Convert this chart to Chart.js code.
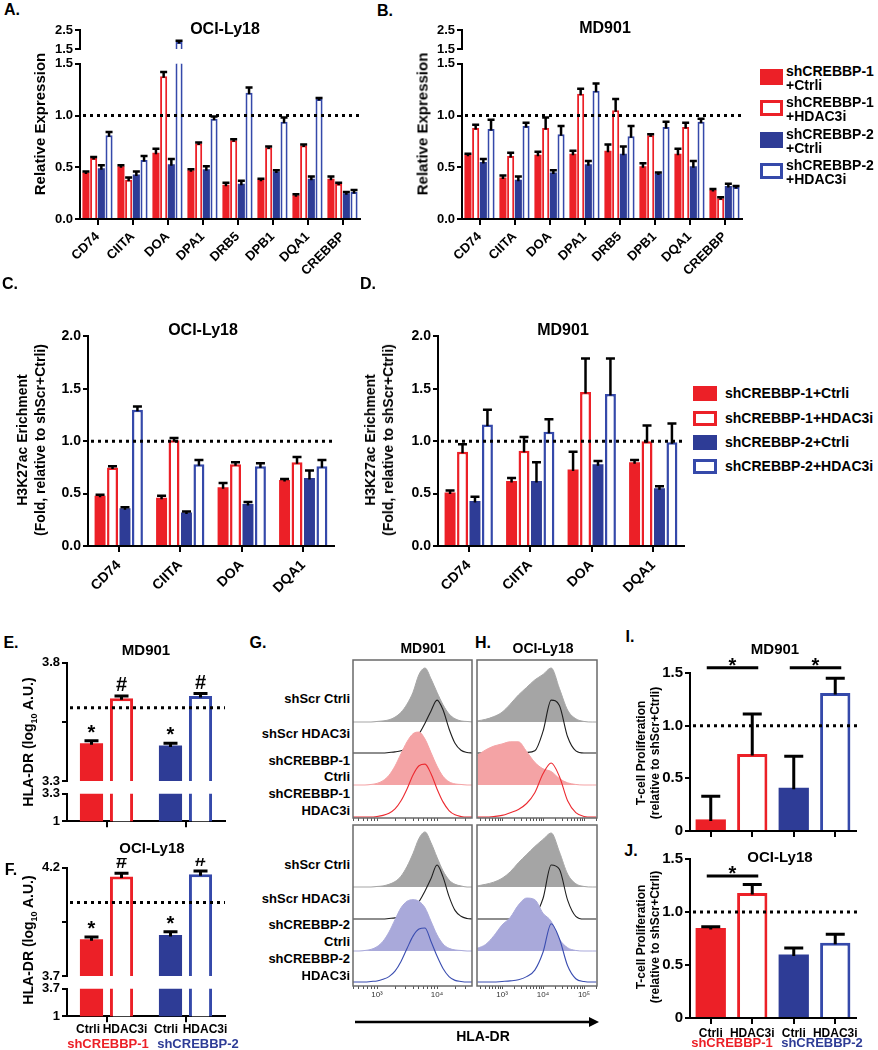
<!DOCTYPE html>
<html>
<head>
<meta charset="utf-8">
<script src="https://cdn.jsdelivr.net/npm/chart.js@4"></script>
<style>
  body { margin: 0; background: #fff; }
  #fig { position: relative; width: 878px; height: 1050px; overflow: hidden;
         font-family: 'Liberation Sans', Arial, Helvetica, sans-serif; font-weight: bold; color: #000; }
  #fig canvas { position: absolute; }
  .t { position: absolute; white-space: nowrap; line-height: 1; }
  .sq { position: absolute; box-sizing: border-box; }
</style>
</head>
<body>
<div id="fig"></div>
<script>
/* ============================
   DATA
   ============================ */
const genes = ["CD74", "CIITA", "DOA", "DPA1", "DRB5", "DPB1", "DQA1", "CREBBP"];
const chipGenes = ["CD74", "CIITA", "DOA", "DQA1"];
const groups = ["shCREBBP-1+Ctrli", "shCREBBP-1+HDAC3i", "shCREBBP-2+Ctrli", "shCREBBP-2+HDAC3i"];
const shGroups = ["shCREBBP-1", "shCREBBP-2"];
const treatments = ["Ctrli", "HDAC3i", "Ctrli", "HDAC3i"];

// A. OCI-Ly18 relative expression
const aSh1Ctrl = [0.45, 0.51, 0.64, 0.47, 0.33, 0.38, 0.23, 0.39];
const aSh1Hdac = [0.59, 0.38, 1.38, 0.73, 0.76, 0.69, 0.71, 0.34];
const aSh2Ctrl = [0.49, 0.43, 0.53, 0.48, 0.34, 0.46, 0.39, 0.25];
const aSh2Hdac = [0.81, 0.57, 1.87, 0.97, 1.22, 0.94, 1.16, 0.26];
const aErrSh1Ctrl = [0.01, 0.01, 0.04, 0.01, 0.02, 0.01, 0.01, 0.02];
const aErrSh1Hdac = [0.01, 0.02, 0.04, 0.01, 0.01, 0.01, 0.01, 0.01];
const aErrSh2Ctrl = [0.03, 0.03, 0.05, 0.03, 0.03, 0.01, 0.02, 0.01];
const aErrSh2Hdac = [0.03, 0.04, 0.06, 0.02, 0.05, 0.04, 0.01, 0.02];

// B. MD901 relative expression
const bSh1Ctrl = [0.62, 0.40, 0.62, 0.63, 0.66, 0.51, 0.63, 0.28];
const bSh1Hdac = [0.88, 0.61, 0.88, 1.21, 1.05, 0.81, 0.89, 0.20];
const bSh2Ctrl = [0.55, 0.38, 0.45, 0.53, 0.63, 0.44, 0.51, 0.32];
const bSh2Hdac = [0.87, 0.90, 0.82, 1.24, 0.80, 0.89, 0.94, 0.31];
const bErrSh1Ctrl = [0.01, 0.02, 0.03, 0.03, 0.06, 0.03, 0.05, 0.01];
const bErrSh1Hdac = [0.03, 0.03, 0.10, 0.05, 0.11, 0.01, 0.04, 0.01];
const bErrSh2Ctrl = [0.03, 0.03, 0.02, 0.03, 0.07, 0.01, 0.05, 0.02];
const bErrSh2Hdac = [0.09, 0.03, 0.08, 0.07, 0.10, 0.05, 0.03, 0.01];

// C. OCI-Ly18 H3K27ac enrichment
const cSh1Ctrl = [0.48, 0.46, 0.56, 0.63];
const cSh1Hdac = [0.75, 1.01, 0.78, 0.80];
const cSh2Ctrl = [0.36, 0.32, 0.40, 0.65];
const cSh2Hdac = [1.30, 0.78, 0.76, 0.76];
const cErrSh1Ctrl = [0.01, 0.02, 0.04, 0.01];
const cErrSh1Hdac = [0.01, 0.02, 0.02, 0.05];
const cErrSh2Ctrl = [0.01, 0.01, 0.02, 0.07];
const cErrSh2Hdac = [0.03, 0.04, 0.03, 0.06];

// D. MD901 H3K27ac enrichment
const dSh1Ctrl = [0.51, 0.62, 0.73, 0.80];
const dSh1Hdac = [0.90, 0.91, 1.47, 1.00];
const dSh2Ctrl = [0.43, 0.62, 0.78, 0.55];
const dSh2Hdac = [1.16, 1.09, 1.45, 0.99];
const dErrSh1Ctrl = [0.02, 0.03, 0.17, 0.02];
const dErrSh1Hdac = [0.07, 0.13, 0.32, 0.15];
const dErrSh2Ctrl = [0.04, 0.18, 0.03, 0.02];
const dErrSh2Hdac = [0.14, 0.12, 0.34, 0.18];

// E / F. HLA-DR (log10 A.U.)
const eCtrl = [3.46, 3.45], eCtrlErr = [0.01, 0.01];
const eHdac = [3.65, 3.66], eHdacErr = [0.01, 0.01];
const eShScr = 3.61;
const fCtrl = [3.87, 3.89], fCtrlErr = [0.01, 0.015];
const fHdac = [4.16, 4.17], fHdacErr = [0.015, 0.015];
const fShScr = 4.04;
const eTicks = [3.3, 3.55, 3.8], eLowTicks = [1, 3.3];
const fTicks = [3.7, 3.95, 4.2], fLowTicks = [1, 3.7];
const ctrlMarks = ["*", "*"], hdacMarks = ["#", "#"];

// I / J. T-cell proliferation
const iVals = [0.11, 0.73, 0.41, 1.31], iErr = [0.22, 0.38, 0.30, 0.14];
const jVals = [0.85, 1.18, 0.60, 0.71], jErr = [0.01, 0.08, 0.06, 0.08];

// G / H. flow histograms, % of mode, bins in log10 HLA-DR
const gLogX = [2.6, 2.7, 2.8, 2.9, 3.0, 3.1, 3.2, 3.3, 3.4, 3.5, 3.6, 3.7, 3.8, 3.9, 4.0, 4.1, 4.2, 4.3, 4.4, 4.5, 4.6];
const gTopScrCtrl = [0, 0, 0, 0, 1, 2, 4, 9, 18, 33, 55, 88, 100, 80, 55, 32, 15, 6, 2, 1, 0];
const gTopScrHdac = [0, 0, 0, 0, 0, 0, 1, 2, 4, 9, 18, 35, 55, 78, 98, 80, 45, 18, 5, 1, 0];
const gTopSh1Ctrl = [0, 0, 0, 1, 3, 8, 18, 35, 58, 80, 95, 98, 85, 60, 35, 16, 6, 2, 1, 0, 0];
const gTopSh1Hdac = [0, 0, 0, 0, 1, 3, 7, 15, 30, 52, 78, 95, 98, 80, 52, 28, 12, 4, 1, 0, 0];
const gBotScrCtrl = [0, 0, 0, 0, 1, 2, 5, 10, 20, 38, 62, 90, 102, 82, 55, 30, 13, 5, 2, 0, 0];
const gBotScrHdac = [0, 0, 0, 0, 0, 0, 1, 2, 4, 8, 16, 32, 52, 75, 100, 78, 42, 16, 5, 1, 0];
const gBotSh2Ctrl = [0, 0, 1, 3, 8, 18, 35, 58, 80, 92, 95, 92, 80, 55, 30, 13, 5, 2, 1, 0, 0];
const gBotSh2Hdac = [0, 0, 0, 1, 2, 5, 10, 20, 38, 62, 85, 98, 100, 75, 48, 25, 10, 3, 1, 0, 0];

const hLogX = [2.4, 2.6, 2.8, 3.0, 3.2, 3.4, 3.6, 3.8, 4.0, 4.2, 4.4, 4.6, 4.8, 5.0, 5.2, 5.3];
const hTopScrCtrl = [2, 5, 10, 18, 33, 50, 64, 78, 88, 100, 62, 22, 6, 1, 0, 0];
const hTopScrHdac = [0, 0, 0, 0, 0, 0, 1, 4, 40, 98, 88, 30, 4, 0, 0, 0];
const hTopSh1Ctrl = [55, 65, 72, 76, 80, 80, 62, 42, 30, 25, 12, 4, 1, 0, 0, 0];
const hTopSh1Hdac = [0, 0, 1, 3, 8, 14, 25, 45, 80, 100, 75, 30, 8, 1, 0, 0];
const hBotScrCtrl = [2, 5, 9, 16, 28, 45, 60, 75, 88, 100, 65, 24, 6, 1, 0, 0];
const hBotScrHdac = [0, 0, 0, 0, 0, 1, 3, 8, 38, 100, 92, 35, 5, 0, 0, 0];
const hBotSh2Ctrl = [5, 12, 28, 48, 62, 85, 98, 95, 70, 55, 22, 6, 1, 0, 0, 0];
const hBotSh2Hdac = [0, 0, 0, 1, 2, 4, 10, 22, 55, 108, 80, 30, 6, 1, 0, 0];

/* ============================
   STYLE + HELPERS
   ============================ */
const FONT = "'Liberation Sans', Arial, Helvetica, sans-serif";
const RED = "#ec2027";
const BLUE = "#2e3c96";
const BLUE_OPEN = "#3549aa";
Chart.defaults.font.family = FONT;
Chart.defaults.font.weight = "bold";
Chart.defaults.font.size = 13;
Chart.defaults.color = "#000";

const fig = document.getElementById("fig");

function canvasAt(x, y, w, h) {
  const c = document.createElement("canvas");
  c.width = w;
  c.height = h;
  c.style.left = x + "px";
  c.style.top = y + "px";
  c.style.width = w + "px";
  c.style.height = h + "px";
  fig.appendChild(c);
  return c;
}

function txt(s, x, y, o = {}) {
  const d = document.createElement("div");
  d.className = "t";
  d.innerHTML = s;
  d.style.left = x + "px";
  d.style.top = y + "px";
  d.style.fontSize = (o.size || 14) + "px";
  if (o.color) d.style.color = o.color;
  if (o.lh) { d.style.lineHeight = o.lh + "px"; d.style.textAlign = "center"; }
  let tr = o.align === "right" ? "translate(-100%,-50%)" : o.align === "left" ? "translate(0,-50%)" : "translate(-50%,-50%)";
  if (o.rot) tr += ` rotate(${o.rot}deg)`;
  d.style.transform = tr;
  fig.appendChild(d);
}

// error bars (upper only) + * / # marks
const errPlugin = {
  id: "errbars",
  afterDatasetsDraw(chart, args, opts) {
    const { ctx, chartArea: a } = chart;
    const ys = chart.scales.y;
    const cw = (opts.cap || 8) / 2;
    ctx.save();
    ctx.beginPath();
    ctx.rect(a.left - 30, a.top, a.right - a.left + 60, a.bottom - a.top);
    ctx.clip();
    ctx.strokeStyle = "#000";
    ctx.lineWidth = opts.lw || 2.5;
    chart.data.datasets.forEach((ds, i) => {
      if (!ds.err) return;
      chart.getDatasetMeta(i).data.forEach((el, j) => {
        const v = ds.data[j];
        if (v === null || v > ys.max || v < ys.min) return;
        const y0 = ys.getPixelForValue(v);
        const y1 = ys.getPixelForValue(v + ds.err[j]);
        ctx.beginPath();
        ctx.moveTo(el.x, y0 + 1.5);
        ctx.lineTo(el.x, y1);
        ctx.moveTo(el.x - cw, y1);
        ctx.lineTo(el.x + cw, y1);
        ctx.stroke();
      });
    });
    ctx.restore();

    ctx.save();
    ctx.fillStyle = "#000";
    ctx.textAlign = "center";
    ctx.textBaseline = "alphabetic";
    ctx.font = `bold 20px ${FONT}`;
    chart.data.datasets.forEach((ds, i) => {
      if (!ds.marks) return;
      chart.getDatasetMeta(i).data.forEach((el, j) => {
        const top = ys.getPixelForValue(ds.data[j] + (ds.err ? ds.err[j] : 0));
        const m = ds.marks[j];
        ctx.fillText(m, el.x, top - (m === "*" ? 2 : 5));
      });
    });
    ctx.restore();
  }
};

// dotted reference line (shScr + Ctrli)
const refPlugin = {
  id: "refline",
  afterDatasetsDraw(chart, args, opts) {
    if (opts.value === undefined) return;
    const { ctx, chartArea: a } = chart;
    const y = chart.scales.y.getPixelForValue(opts.value);
    ctx.save();
    ctx.strokeStyle = "#000";
    ctx.lineWidth = 3;
    ctx.setLineDash([3, 4]);
    ctx.beginPath();
    ctx.moveTo(a.left + 3, y);
    ctx.lineTo(a.right + (opts.extra || 0), y);
    ctx.stroke();
    ctx.restore();
  }
};

// significance brackets
const sigPlugin = {
  id: "sig",
  afterDraw(chart) {
    const ds = chart.data.datasets[0];
    if (!ds.sig) return;
    const { ctx } = chart;
    const meta = chart.getDatasetMeta(0);
    const y = chart.scales.y.getPixelForValue(ds.sig.value);
    ctx.save();
    ctx.strokeStyle = "#000";
    ctx.lineWidth = 3;
    ctx.fillStyle = "#000";
    ctx.font = `bold 20px ${FONT}`;
    ctx.textAlign = "center";
    ds.sig.pairs.forEach(([i, j]) => {
      const x0 = meta.data[i].x - 4, x1 = meta.data[j].x + 6;
      ctx.beginPath();
      ctx.moveTo(x0, y);
      ctx.lineTo(x1, y);
      ctx.stroke();
      ctx.fillText("*", (x0 + x1) / 2, y + 4);
    });
    ctx.restore();
  }
};

// frame around flow histograms
const boxPlugin = {
  id: "box",
  afterDraw(chart) {
    const { ctx, chartArea: a } = chart;
    ctx.save();
    ctx.strokeStyle = "#6a6a6a";
    ctx.lineWidth = 1.5;
    ctx.strokeRect(a.left, a.top, a.right - a.left, a.bottom - a.top);
    ctx.restore();
  }
};

/* ============================
   BAR PANEL
   ============================ */
function barPanel(o) {
  const a = o.area, m = o.m;
  const w = m.l + (a.r - a.l) + m.r;
  const h = m.t + (a.b - a.t) + m.b;
  const cv = canvasAt(a.l - m.l, a.t - m.t, w, h);
  return new Chart(cv, {
    type: "bar",
    data: { labels: o.labels, datasets: o.datasets },
    options: {
      responsive: false,
      animation: false,
      events: [],
      layout: { padding: { top: m.t, right: m.r, left: 0, bottom: o.showX ? 0 : m.b } },
      plugins: {
        legend: { display: false },
        tooltip: { enabled: false },
        errbars: { cap: o.cap, lw: o.lw },
        refline: o.ref === undefined ? {} : { value: o.ref, extra: o.refExtra || 0 }
      },
      scales: {
        x: {
          display: !!o.showX,
          offset: true,
          afterFit: (s) => { s.height = o.showX ? m.b : 0; },
          grid: { offset: false, drawOnChartArea: false, tickLength: o.xTick || 6, color: "#000", lineWidth: 2 },
          border: { display: true, color: "#000", width: 2 },
          ticks: {
            display: !!o.xLabels,
            autoSkip: false,
            maxRotation: o.rot || 0,
            minRotation: o.rot || 0,
            padding: o.xPad || 3,
            font: { size: o.xFont || 13, weight: "bold" },
            color: "#000"
          }
        },
        y: {
          min: o.min,
          max: o.max,
          afterFit: (s) => { s.width = m.l; },
          afterBuildTicks: (s) => { s.ticks = o.yTicks.map((v) => ({ value: v })); },
          grid: { drawOnChartArea: false, tickLength: 5, color: "#000", lineWidth: 2 },
          border: { display: true, color: "#000", width: 2 },
          ticks: { autoSkip: false, padding: 2, font: { size: o.yFont || 13, weight: "bold" }, color: "#000", callback: o.yFmt }
        }
      }
    },
    plugins: [errPlugin, refPlugin, sigPlugin]
  });
}

// floor: values under the visible segment are left out (broken axis top part)
function groupSets(vals, errs, bw, pct, floor) {
  const cols = [RED, RED, BLUE, BLUE_OPEN];
  return vals.map((v, k) => {
    const open = k % 2 === 1;
    return {
      data: floor === undefined ? v : v.map((x) => (x > floor ? x : null)),
      err: errs[k],
      backgroundColor: open ? "#fff" : cols[k],
      borderColor: cols[k],
      borderWidth: open ? bw : 0,
      categoryPercentage: pct[0],
      barPercentage: pct[1],
      clip: 0
    };
  });
}

const fmt1 = (v) => v.toFixed(1);
const fmtMinor = (v) => (Math.abs(v * 10 - Math.round(v * 10)) < 1e-6 ? v.toFixed(1) : "");
const fmtLow = (v) => (v === 1 ? "1" : v.toFixed(1));
const fmtZero = (v) => (v === 0 ? "0" : v.toFixed(1));

/* ===== A + B: relative expression (broken axis) ===== */
function exprPanel(left, vals, errs) {
  const pct = [0.88, 0.92];
  barPanel({
    area: { l: left, t: 30, r: left + 280, b: 49 }, m: { t: 10, r: 4, b: 10, l: 60 },
    labels: genes, datasets: groupSets(vals, errs, 2, pct, 1.5),
    min: 1.5, max: 2.5, yTicks: [1.5, 2.5], yFmt: fmt1, cap: 7, lw: 2.5
  });
  barPanel({
    area: { l: left, t: 63, r: left + 280, b: 219 }, m: { t: 9, r: 4, b: 75, l: 60 },
    labels: genes, datasets: groupSets(vals, errs, 2, pct),
    showX: true, xLabels: true, rot: 45, xPad: 4,
    min: 0, max: 1.5, yTicks: [0, 0.5, 1, 1.5], yFmt: fmt1, cap: 7, lw: 2.5, ref: 1
  });
}
exprPanel(80, [aSh1Ctrl, aSh1Hdac, aSh2Ctrl, aSh2Hdac], [aErrSh1Ctrl, aErrSh1Hdac, aErrSh2Ctrl, aErrSh2Hdac]);
exprPanel(462, [bSh1Ctrl, bSh1Hdac, bSh2Ctrl, bSh2Hdac], [bErrSh1Ctrl, bErrSh1Hdac, bErrSh2Ctrl, bErrSh2Hdac]);

/* ===== C + D: H3K27ac ChIP ===== */
function chipPanel(left, vals, errs) {
  barPanel({
    area: { l: left, t: 335, r: left + 246, b: 546 }, m: { t: 9, r: 4, b: 62, l: 60 },
    labels: chipGenes, datasets: groupSets(vals, errs, 2.5, [0.81, 0.88]),
    showX: true, xLabels: true, rot: 45, xFont: 14, xPad: 5, yFont: 14,
    min: 0, max: 2, yTicks: [0, 0.5, 1, 1.5, 2], yFmt: fmt1, cap: 9, lw: 2.5, ref: 1
  });
}
chipPanel(88, [cSh1Ctrl, cSh1Hdac, cSh2Ctrl, cSh2Hdac], [cErrSh1Ctrl, cErrSh1Hdac, cErrSh2Ctrl, cErrSh2Hdac]);
chipPanel(438, [dSh1Ctrl, dSh1Hdac, dSh2Ctrl, dSh2Hdac], [dErrSh1Ctrl, dErrSh1Hdac, dErrSh2Ctrl, dErrSh2Hdac]);

/* ===== E + F: HLA-DR MFI (broken axis) ===== */
function mfiSets(ctrl, ctrlErr, hdac, hdacErr, withMarks) {
  const pct = { categoryPercentage: 0.76, barPercentage: 0.77, clip: 0 };
  const c = { data: ctrl, err: ctrlErr, backgroundColor: [RED, BLUE], borderWidth: 0, ...pct };
  const h = { data: hdac, err: hdacErr, backgroundColor: "#fff", borderColor: [RED, BLUE_OPEN], borderWidth: 3, ...pct };
  if (withMarks) { c.marks = ctrlMarks; h.marks = hdacMarks; }
  return [c, h];
}
function mfiPanel(top, lowTop, d, ticks, lowTicks, ref) {
  barPanel({
    area: { l: 67, t: top, r: 225, b: lowTop - 12 }, m: { t: 9, r: 4, b: 10, l: 45 },
    labels: shGroups, datasets: mfiSets(d[0], d[1], d[2], d[3], true),
    min: ticks[0], max: ticks[2], yTicks: ticks, yFmt: fmtMinor, cap: 14, lw: 3, ref: ref
  });
  barPanel({
    area: { l: 67, t: lowTop, r: 225, b: lowTop + 30 }, m: { t: 9, r: 4, b: 8, l: 45 },
    labels: shGroups, datasets: mfiSets(d[0], d[1], d[2], d[3], false),
    showX: true, xTick: 6,
    min: lowTicks[0], max: lowTicks[1], yTicks: lowTicks, yFmt: fmtLow, cap: 14, lw: 3
  });
}
mfiPanel(662, 793, [eCtrl, eCtrlErr, eHdac, eHdacErr], eTicks, eLowTicks, eShScr);
mfiPanel(867, 988, [fCtrl, fCtrlErr, fHdac, fHdacErr], fTicks, fLowTicks, fShScr);

/* ===== I + J: T-cell proliferation ===== */
function prolifPanel(top, vals, errs, sig, labels) {
  const ds = {
    data: vals, err: errs,
    backgroundColor: [RED, "#fff", BLUE, "#fff"],
    borderColor: [RED, RED, BLUE, BLUE_OPEN],
    borderWidth: [0, 3, 0, 3],
    categoryPercentage: 1, barPercentage: 0.73, clip: 0,
    sig: sig
  };
  barPanel({
    area: { l: 690, t: top, r: 856, b: top + 161 }, m: { t: labels ? 9 : 30, r: 12, b: labels ? 20 : 8, l: 40 },
    labels: treatments, datasets: [ds],
    showX: true, xLabels: labels, xFont: 12, xPad: 2, yFont: 15,
    min: 0, max: 1.5, yTicks: [0, 0.5, 1, 1.5], yFmt: fmtZero, cap: 19, lw: 3, ref: 1, refExtra: 2
  });
}
prolifPanel(673, iVals, iErr, { pairs: [[0, 1], [2, 3]], value: 1.55 }, false);
prolifPanel(857, jVals, jErr, { pairs: [[0, 1]], value: 1.34 }, true);

/* ===== G + H: flow histograms ===== */
const SUP = { 1000: "10\u00b3", 10000: "10\u2074", 100000: "10\u2075" };
const K = 0.54;
function histPanel(area, logX, series, offs, lim, labels) {
  const m = { t: 1, r: 1, b: labels ? 16 : 6, l: 1 };
  const w = (area.r - area.l) + m.l + m.r;
  const h = (area.b - area.t) + m.t + m.b;
  const cv = canvasAt(area.l - m.l, area.t - m.t, w, h);
  const tickVals = [];
  for (let e = 2; e <= 5; e++) {
    for (let k = 1; k <= 9; k++) {
      const v = k * Math.pow(10, e);
      if (v >= lim[0] && v <= lim[1]) tickVals.push(v);
    }
  }
  new Chart(cv, {
    type: "line",
    data: {
      datasets: series.map((s, i) => ({
        data: logX.map((lx, j) => ({ x: Math.pow(10, lx), y: offs[i] + s.counts[j] * K })),
        borderColor: s.line,
        borderWidth: s.fill ? 1 : 1.1,
        backgroundColor: s.fill || "rgba(0,0,0,0)",
        fill: s.fill ? { value: offs[i] } : false,
        pointRadius: 0,
        cubicInterpolationMode: "monotone",
        order: series.length - 1 - i
      }))
    },
    options: {
      responsive: false,
      animation: false,
      events: [],
      layout: { padding: { top: m.t, right: m.r, left: m.l, bottom: 0 } },
      plugins: { legend: { display: false }, tooltip: { enabled: false } },
      scales: {
        x: {
          type: "logarithmic",
          min: lim[0],
          max: lim[1],
          afterFit: (s) => { s.height = m.b; },
          afterBuildTicks: (s) => { s.ticks = tickVals.map((v) => ({ value: v })); },
          grid: { drawOnChartArea: false, tickLength: 3, color: "#555", lineWidth: 1 },
          border: { display: false },
          ticks: {
            display: labels,
            autoSkip: false,
            maxRotation: 0,
            padding: 1,
            font: { size: 8, weight: "normal" },
            color: "#333",
            callback: (v) => SUP[v] || ""
          }
        },
        y: { display: false, min: 0, max: area.b - area.t }
      }
    },
    plugins: [boxPlugin]
  });
}

const GREY_FILL = "#a5a5a5", PINK_FILL = "#f4a3a5", LAV_FILL = "#a9a9da";
const LINE_K = "#1e1e1e", LINE_R = "#ec2a30", LINE_B = "#3a4db0";
const topOffs = [96, 65, 33, 1];
const botOffs = [99, 67, 35, 4];
const gLim = [Math.pow(10, 2.6), Math.pow(10, 4.583)];
const hLim = [Math.pow(10, 2.39), Math.pow(10, 5.317)];

histPanel({ l: 353, t: 660, r: 472, b: 818 }, gLogX, [
  { counts: gTopScrCtrl, line: GREY_FILL, fill: GREY_FILL },
  { counts: gTopScrHdac, line: LINE_K },
  { counts: gTopSh1Ctrl, line: PINK_FILL, fill: PINK_FILL },
  { counts: gTopSh1Hdac, line: LINE_R }
], topOffs, gLim, false);
histPanel({ l: 353, t: 825, r: 472, b: 986 }, gLogX, [
  { counts: gBotScrCtrl, line: GREY_FILL, fill: GREY_FILL },
  { counts: gBotScrHdac, line: LINE_K },
  { counts: gBotSh2Ctrl, line: LAV_FILL, fill: LAV_FILL },
  { counts: gBotSh2Hdac, line: LINE_B }
], botOffs, gLim, true);
histPanel({ l: 477, t: 660, r: 597, b: 818 }, hLogX, [
  { counts: hTopScrCtrl, line: GREY_FILL, fill: GREY_FILL },
  { counts: hTopScrHdac, line: LINE_K },
  { counts: hTopSh1Ctrl, line: PINK_FILL, fill: PINK_FILL },
  { counts: hTopSh1Hdac, line: LINE_R }
], topOffs, hLim, false);
histPanel({ l: 477, t: 825, r: 597, b: 986 }, hLogX, [
  { counts: hBotScrCtrl, line: GREY_FILL, fill: GREY_FILL },
  { counts: hBotScrHdac, line: LINE_K },
  { counts: hBotSh2Ctrl, line: LAV_FILL, fill: LAV_FILL },
  { counts: hBotSh2Hdac, line: LINE_B }
], botOffs, hLim, true);

/* ============================
   TEXT, LEGENDS, ARROW
   ============================ */
[["A.", 12, 10], ["B.", 385, 11], ["C.", 10, 284], ["D.", 368, 284], ["E.", 11, 643],
 ["F.", 11, 870], ["G.", 258, 643], ["H.", 483, 643], ["I.", 630, 637], ["J.", 631, 851]]
  .forEach(([s, x, y]) => txt(s, x, y, { size: 16 }));

txt("OCI-Ly18", 225, 29, { size: 16 });
txt("MD901", 605, 28, { size: 16 });
txt("OCI-Ly18", 203, 330, { size: 16 });
txt("MD901", 563, 330, { size: 16 });
txt("MD901", 146, 649, { size: 15 });
txt("OCI-Ly18", 152, 847, { size: 15 });
txt("MD901", 423, 648, { size: 14 });
txt("OCI-Ly18", 543, 648, { size: 14 });
txt("MD901", 775, 648, { size: 15 });
txt("OCI-Ly18", 780, 856, { size: 15 });

txt("Relative Expression", 39, 124, { size: 15, rot: -90 });
txt("Relative Expression", 422, 124, { size: 15, rot: -90 });
txt("H3K27ac Erichment<br>(Fold, relative to shScr+Ctrli)", 31, 440, { size: 14, rot: -90, lh: 18 });
txt("H3K27ac Erichment<br>(Fold, relative to shScr+Ctrli)", 379, 440, { size: 14, rot: -90, lh: 18 });
txt("HLA-DR (log<sub style='font-size:9px'>10</sub> A.U.)", 30, 742, { size: 14, rot: -90 });
txt("HLA-DR (log<sub style='font-size:9px'>10</sub> A.U.)", 30, 940, { size: 14, rot: -90 });
txt("T-cell Proliferation<br>(relative to shScr+Ctrli)", 648, 753, { size: 12, rot: -90, lh: 14 });
txt("T-cell Proliferation<br>(relative to shScr+Ctrli)", 648, 937, { size: 12, rot: -90, lh: 14 });

// F / J group labels
[[88, treatments[0]], [125, treatments[1]], [166, treatments[2]], [205, treatments[3]]]
  .forEach(([x, s]) => txt(s, x, 1029, { size: 12 }));
txt(shGroups[0], 108, 1043, { size: 13, color: RED });
txt(shGroups[1], 198, 1043, { size: 13, color: BLUE });
txt(shGroups[0], 732, 1042, { size: 13, color: RED });
txt(shGroups[1], 822, 1042, { size: 13, color: BLUE });

// G row labels
const rowLabelsTop = [["shScr Ctrli", 698], ["shScr HDAC3i", 733], ["shCREBBP-1", 760], ["Ctrli", 776], ["shCREBBP-1", 793], ["HDAC3i", 810]];
const rowLabelsBot = [["shScr Ctrli", 864], ["shScr HDAC3i", 898], ["shCREBBP-2", 924], ["Ctrli", 941], ["shCREBBP-2", 958], ["HDAC3i", 975]];
rowLabelsTop.concat(rowLabelsBot).forEach(([s, y]) => txt(s, 350, y, { size: 13, align: "right" }));

// legends
function legendBox(x, y, w, h, col, open) {
  const d = document.createElement("div");
  d.className = "sq";
  d.style.cssText += `left:${x}px;top:${y}px;width:${w}px;height:${h}px;` +
    (open ? `border:3px solid ${col};background:#fff;` : `background:${col};`);
  fig.appendChild(d);
}
const legCols = [RED, RED, BLUE, BLUE_OPEN];
[77, 108, 140, 171].forEach((cy, k) => {
  legendBox(760, cy - 8, 23, 16, legCols[k], k % 2 === 1);
  const parts = groups[k].split("+");
  txt(parts[0], 786, cy - 6, { size: 14, align: "left" });
  txt("+" + parts[1], 786, cy + 8, { size: 14, align: "left" });
});
[393, 418, 442, 466].forEach((cy, k) => {
  legendBox(693, cy - 7, 24, 15, legCols[k], k % 2 === 1);
  txt(groups[k], 725, cy, { size: 14, align: "left" });
});

// HLA-DR arrow
const svgNS = "http://www.w3.org/2000/svg";
const svg = document.createElementNS(svgNS, "svg");
svg.setAttribute("width", "878");
svg.setAttribute("height", "1050");
svg.style.cssText = "position:absolute;left:0;top:0;pointer-events:none";
svg.innerHTML = '<line x1="355" y1="1022" x2="590" y2="1022" stroke="#000" stroke-width="2.5"/>' +
  '<polygon points="589,1017 599,1022 589,1027" fill="#000"/>';
fig.appendChild(svg);
txt("HLA-DR", 483, 1036, { size: 14 });
</script>
</body>
</html>
